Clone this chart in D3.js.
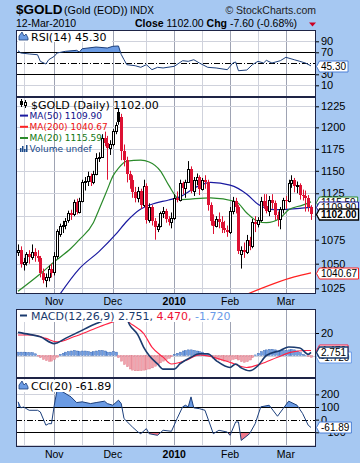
<!DOCTYPE html>
<html><head><meta charset="utf-8">
<script src="https://cdn.jsdelivr.net/npm/d3@7/dist/d3.min.js"></script>
<style>
html,body{margin:0;padding:0;background:#a6c8f2;}
svg{display:block;}
text{font-family:"Liberation Sans",Arial,sans-serif;}
.lg{font-family:"DejaVu Sans",Verdana,sans-serif;font-size:11px;}
.lgs{font-family:"DejaVu Sans",Verdana,sans-serif;font-size:9px;}
</style></head><body>
<svg id="chart" width="360" height="463"></svg>
<script>
// ---------------- DATA ----------------
const startDate = "2009-10-14", endDate = "2010-03-12";
const holidays = ["2009-12-25", "2010-01-01"];
const opens = [1062,1064,1050,1052,1060,1057,1062,1058,1056,1040,1033,1036,1045,
 1041,1058,1081,1089,1091,1096,1103,1102,1115,1105,1117,1137,1139,1144,1138,1146,1165,1166,1188,1182,1176,
 1181,1196,1218,1212,1173,1162,1146,1140,1126,1120,1127,1112,1133,1096,1110,1095,1086,1090,1103,1106,1097,1094,
 1098,1120,1118,1136,1131,1138,1152,1128,1140,1143,1130,1140,1137,1112,1095,1090,1097,1094,1087,1085,
 1083,1106,1117,1110,1060,1064,1062,1075,1068,1094,1092,1096,1117,1111,1106,1118,1114,1101,1097,1108,
 1118,1117,1136,1140,1133,1134,1123,1122,1120,1109.6];
const highs = [1070,1068,1056,1062,1064,1070,1066,1064,1058,1045,1040,1048,1050,
 1062,1086,1092,1095,1098,1106,1107,1118,1119,1120,1140,1143,1149,1147,1150,1170,1171,1192,1195,1190,1185,
 1198,1206,1222,1216,1180,1166,1150,1145,1132,1132,1130,1140,1136,1114,1112,1098,1092,1105,1110,1108,1100,1104,
 1124,1127,1140,1138,1140,1161,1155,1143,1147,1145,1142,1145,1140,1115,1102,1100,1104,1100,1095,1090,
 1110,1121,1120,1112,1068,1072,1080,1078,1097,1100,1099,1121,1124,1124,1122,1124,1117,1105,1110,1120,
 1122,1140,1145,1142,1138,1136,1129,1128,1123,1112];
const lows = [1058,1046,1043,1048,1050,1054,1052,1052,1036,1030,1026,1032,1036,
 1038,1055,1078,1082,1086,1093,1096,1100,1102,1103,1115,1128,1133,1133,1135,1145,1160,1165,1178,1140,1168,
 1178,1192,1203,1162,1155,1137,1130,1120,1115,1115,1108,1110,1092,1093,1090,1075,1083,1088,1098,1093,1090,1087,
 1096,1115,1116,1124,1120,1137,1125,1122,1134,1123,1128,1130,1106,1090,1081,1088,1087,1082,1082,1078,
 1081,1102,1103,1060,1045,1056,1060,1064,1066,1083,1088,1094,1108,1103,1100,1108,1096,1089,1086,1103,
 1108,1115,1131,1126,1125,1118,1117,1105,1105,1096];
const closes = [1064,1050,1052,1060,1057,1062,1058,1056,1040,1033,1036,1045,1040,
 1058,1084,1089,1091,1095,1103,1101,1115,1104,1117,1137,1139,1144,1138,1146,1165,1166,1188,1182,1176,1181,
 1196,1203,1206,1173,1162,1146,1140,1126,1120,1127,1112,1133,1096,1110,1095,1088,1090,1103,1106,1097,1094,1098,
 1120,1118,1136,1131,1138,1152,1128,1140,1143,1130,1140,1137,1112,1095,1090,1097,1094,1087,1085,1083,
 1106,1117,1110,1063,1064,1062,1075,1068,1094,1092,1096,1117,1111,1106,1118,1114,1101,1097,1108,1118,
 1117,1136,1140,1133,1134,1123,1122,1120,1109.6,1102];

// moving averages: [bar index, value]
const ma20 = [[0,1022],[9,1042],[13,1052],[19,1066],[22,1075],[27,1093],[29,1107],[32,1129],[34,1144],[36,1153],
 [39,1161],[44,1162],[47,1160],[51,1150],[54,1134],[57,1120],[58,1118],[69,1120],[78,1116],[82,1103.5],[85,1096],
 [89,1093],[94,1098],[97,1107],[102,1112],[105,1115.59]];
const ma50 = [[14,1015],[22,1045],[29,1062.5],[35,1080.5],[39,1094.6],[44,1107.8],[48,1113],[54,1117.6],[58,1121],
 [64,1132],[69,1137],[76,1134],[82,1124],[86,1113],[92,1107],[101,1108.5],[105,1109.9]];
const ma200 = [[82,1019],[99,1036.5],[105,1040.67]];

const rsi = [[0,73],[1,68.7],[4,67],[7,65.6],[8,53.6],[10,48.7],[11,56.5],[13,62.7],[14,68.7],[17,71.8],[21,73.6],
 [22,70.5],[23,76.5],[28,79.6],[32,77.8],[34,80.9],[36,81.5],[37,66],[38,56.5],[39,47.5],[42,45.6],[44,42.7],[46,47.5],
 [48,38.4],[50,42.7],[52,41.5],[56,44.5],[59,54.7],[61,53.6],[63,56.5],[65,50.5],[68,42.7],[71,41.5],[75,38.4],
 [77,50.5],[78,52.4],[79,36.5],[82,37.8],[84,47.5],[86,53.6],[88,50.5],[89,55.4],[91,50.5],[94,54.7],[96,60.9],
 [99,56.5],[101,53.6],[103,50.5],[105,45.3]];

const macdLine = [[0,20.6],[4,18.8],[8,16.6],[13,10.6],[14,11.2],[17,15.2],[22,21.2],[27,27.3],[29,29.4],[33,34],
 [36,40],[38,37.9],[40,27.3],[43,18.2],[45,7.5],[47,0],[50,-7.5],[52,-12.1],[56,-12.1],[58,-7.5],[62,-1.5],[65,1.5],
 [68,1.5],[71,-4.5],[76,-10.6],[78,-7.5],[80,-11],[83,-13.6],[86,-9.1],[89,0],[94,4.5],[97,7.5],[101,6.7],[104,1],[105,2.751]];
const macdSignal = [[0,18.2],[5,18.2],[10,15.2],[14,12.1],[20,16.6],[27,23.3],[33,29],[38,32],[41,27.3],[45,19.7],
 [48,7.5],[52,-1.5],[55,-7.5],[60,-4.5],[65,0.6],[70,-1.5],[76,-6.1],[82,-10.6],[87,-7.5],[93,-1.5],[98,3],[103,4.5],[105,4.47]];
const macdHist = [3,3,3,2.8,2.6,2.5,1.5,-0.5,-2,-3.5,-4.5,-5.2,-5,-3.5,-1.5,
 1,2,3,3.5,4,4.5,4,3.5,4,4,3.5,3,3.5,4,4.5,4.5,4,3,3,3.5,3,
 -2,-5,-8,-10,-12,-13,-13.6,-13.6,-13.5,-13,-12.5,-12,-11,-9.5,-8,-6.5,-5,-3.5,-2.5,-1,
 1,2,3,4,4.5,5,5,4.5,4,3.5,3,2,1,
 -1,-2.5,-3.5,-4,-4.5,-5,-5,-4.5,-3.5,-3,-4,-5.5,-6,-5.5,-4,-2,
 0.5,2,3.5,4.5,5,5.5,5.5,5,4,4,4.5,4.5,5,5.5,5,4,2.5,1,0.3,-1,-1.72];

const cci = [[0,141],[1,93],[2,100],[4,74],[7,74],[8,61],[10,-44],[11,-32],[12,-32],[13,114],[14,233],[16,220],
 [19,180],[21,135],[23,141],[26,127],[28,135],[31,146],[32,127],[34,114],[36,154],[37,127],[38,8],[41,-58],[43,-98],
 [44,-111],[46,-71],[47,-111],[50,-124],[52,-84],[55,-92],[57,8],[59,101],[60,114],[61,101],[62,180],[63,93],[65,87],
 [67,74],[70,-111],[72,-84],[75,-98],[76,-124],[78,-18],[79,-18],[80,-164],[83,-111],[85,-32],[87,101],[90,114],
 [93,27],[95,87],[97,146],[100,114],[102,48],[104,-44],[105,-61.89]];

const priceTicks = [1025,1050,1075,1125,1150,1175,1200,1225];
const priceGrid = [1025,1050,1075,1100,1125,1150,1175,1200,1225];
const rsiTicks = [10,30,70,90];
const macdTicks = [20];
const cciTicks = [-100,0,100,200];
const monthLabels = ["Nov","Dec","2010","Feb","Mar"];
const midMonthGrid = ["2009-10-16","2009-11-16","2009-12-17","2010-01-18","2010-02-15"];

// ---------------- BUILD ----------------
const fmt = d3.timeFormat("%Y-%m-%d");
const dates = [];
for (let d = new Date(startDate + "T12:00:00"); d <= new Date(endDate + "T12:00:00"); d.setDate(d.getDate() + 1)) {
  const s = fmt(d), wd = d.getDay();
  if (wd === 0 || wd === 6 || holidays.includes(s)) continue;
  dates.push(s);
}
const n = dates.length;
const monthStarts = [];
for (let i = 1; i < n; i++) if (dates[i].slice(5,7) !== dates[i-1].slice(5,7)) monthStarts.push(i);
const midIdx = midMonthGrid.map(s => dates.indexOf(s)).filter(i => i >= 0);

const svg = d3.select("#chart");
const L = 16, R = 316;
const x = d3.scaleLinear().domain([0, n - 1]).range([18, 311]);

const P = {
  rsi: {top: 30, bottom: 97},
  main: {top: 97, bottom: 294},
  macd: {top: 309, bottom: 378},
  cci: {top: 378, bottom: 447}
};
const yP = d3.scaleLog().domain([1019.3, 1235.6]).range([294, 97.5]);
const yR = d3.scaleLinear().domain([30, 70]).range([74.3, 52.3]);
const yM = d3.scaleLinear().domain([0, 20]).range([355.5, 333]);
const yC = d3.scaleLinear().domain([-100, 100]).range([432.3, 407]);

const GRID = "#cfd2dc", MGRID = "#9ea3b3", BORDER = "#1e2446";
const RED = "#dd1133", BLUE_FILL = "#6b9be3", PINK = "#f2a0aa";

const defs = svg.append("defs");
function panel(key, yScale, ticks, grid) {
  const p = P[key];
  defs.append("clipPath").attr("id", "clip-" + key).append("rect")
    .attr("x", L).attr("y", p.top).attr("width", R - L).attr("height", p.bottom - p.top);
  const g = svg.append("g");
  g.append("rect").attr("x", L).attr("y", p.top).attr("width", R - L).attr("height", p.bottom - p.top).attr("fill", "#fff");
  const gg = g.append("g").attr("clip-path", `url(#clip-${key})`);
  midIdx.forEach(i => gg.append("line").attr("x1", Math.round(x(i)) + 0.5).attr("x2", Math.round(x(i)) + 0.5)
    .attr("y1", p.top).attr("y2", p.bottom).attr("stroke", GRID));
  monthStarts.forEach(i => gg.append("line").attr("x1", Math.round(x(i)) + 0.5).attr("x2", Math.round(x(i)) + 0.5)
    .attr("y1", p.top).attr("y2", p.bottom).attr("stroke", MGRID));
  grid.forEach(t => gg.append("line").attr("x1", L).attr("x2", R)
    .attr("y1", Math.round(yScale(t)) + 0.5).attr("y2", Math.round(yScale(t)) + 0.5).attr("stroke", GRID));
  const ax = svg.append("g").attr("transform", `translate(${R},0)`)
    .call(d3.axisRight(yScale).tickValues(ticks).tickSize(3).tickPadding(2).tickFormat(d3.format("d")));
  ax.select(".domain").remove();
  ax.selectAll("line").attr("stroke", "#000");
  ax.selectAll("text").attr("font-size", 11).attr("fill", "#000").attr("font-family", "Liberation Sans, Arial, sans-serif");
  return {g, gg, ax, p};
}
function border(p) {
  svg.append("rect").attr("x", L + 0.5).attr("y", p.top + 0.5).attr("width", R - L - 1).attr("height", p.bottom - p.top - 1)
    .attr("fill", "none").attr("stroke", BORDER);
}
function valueBox(y, txt, stroke, opts = {}) {
  const g = svg.append("g");
  const h = 11;
  const yc = Math.round(y) + 0.5;
  const path = g.append("path");
  const t = g.append("text").attr("x", R + 5).attr("y", yc + 3.5).attr("font-size", 10).attr("font-weight", opts.bold ? "bold" : null)
    .attr("fill", "#000").text(txt);
  const w = t.node().getComputedTextLength();
  const xe = Math.min(R + 5 + w + 2, 358.5);
  path.attr("d", `M${R+0.5},${yc} L${R+3.5},${yc-h/2} L${xe},${yc-h/2} L${xe},${yc+h/2} L${R+3.5},${yc+h/2} Z`)
    .attr("fill", "#fff").attr("stroke", stroke).attr("stroke-width", opts.sw || 1);
}
function legendBg(x0, y0, w, h) {
  svg.append("rect").attr("x", x0).attr("y", y0).attr("width", w).attr("height", h).attr("fill", "#fff");
}
function mountainIcon(x0, y0, col) {
  svg.append("path").attr("d", `M${x0},${y0+8} L${x0},${y0+4} L${x0+3},${y0} L${x0+5},${y0+4} L${x0+7},${y0+2} L${x0+9},${y0+6} L${x0+9},${y0+8} Z`)
    .attr("fill", col).attr("stroke", "#1c3f7c").attr("stroke-width", 0.8);
}

// ---------------- HEADER ----------------
svg.append("text").attr("x", 16).attr("y", 14).attr("font-size", 13.5).attr("font-weight", "bold").text("$GOLD");
svg.append("text").attr("x", 64).attr("y", 14).attr("font-size", 10.8).text("(Gold (EOD))");
svg.append("text").attr("x", 130).attr("y", 14).attr("font-size", 10).text("INDX");
svg.append("text").attr("x", 316).attr("y", 14).attr("font-size", 10.5).attr("text-anchor", "end").attr("fill", "#222").text("© StockCharts.com");
svg.append("text").attr("x", 16).attr("y", 27).attr("font-size", 10.5).text("12-Mar-2010");
const hdr = svg.append("text").attr("x", 135).attr("y", 27).attr("font-size", 10.5);
hdr.append("tspan").attr("font-weight", "bold").text("Close");
hdr.append("tspan").text(" 1102.00  ");
hdr.append("tspan").attr("font-weight", "bold").text("Chg");
hdr.append("tspan").text(" -7.60 (-0.68%)");
svg.append("path").attr("d", "M309,22.5 L316,22.5 L312.5,26.5 Z").attr("fill", "#cc0022");

// ---------------- RSI ----------------
{
  const pr = panel("rsi", yR, rsiTicks, [10, 90]);
  const gg = pr.gg;
  defs.append("clipPath").attr("id", "clip-rsi-hi").append("rect").attr("x", L).attr("y", P.rsi.top).attr("width", R - L).attr("height", yR(70) - P.rsi.top);
  gg.append("path").datum(rsi).attr("clip-path", "url(#clip-rsi-hi)")
    .attr("d", d3.area().x(d => x(d[0])).y0(yR(70)).y1(d => yR(d[1]))).attr("fill", BLUE_FILL);
  [70, 30].forEach(v => gg.append("line").attr("x1", L).attr("x2", R).attr("y1", Math.round(yR(v)) + 0.5).attr("y2", Math.round(yR(v)) + 0.5).attr("stroke", "#000"));
  gg.append("line").attr("x1", L).attr("x2", R).attr("y1", Math.round(yR(50)) + 0.5).attr("y2", Math.round(yR(50)) + 0.5)
    .attr("stroke", "#000").attr("stroke-dasharray", "6,2,1,2");
  gg.append("path").datum(rsi).attr("d", d3.line().x(d => x(d[0])).y(d => yR(d[1]))).attr("fill", "none").attr("stroke", "#1c3f7c").attr("stroke-width", 1);
  border(P.rsi);
  legendBg(18, 31, 94, 11);
  mountainIcon(19, 32, BLUE_FILL);
  svg.append("text").attr("class", "lg").attr("x", 31).attr("y", 40.5).text("RSI(14) 45.30");
  valueBox(yR(45.3), "45.30", "#4a7fd6");
}

// ---------------- MAIN ----------------
{
  const pr = panel("main", yP, priceTicks, priceGrid);
  const gg = pr.gg;
  const idx = d3.range(n);
  const col = i => (closes[i] < (i ? closes[i - 1] : opens[i])) ? RED : "#000";
  const mline = d3.line().x(d => x(d[0])).y(d => yP(d[1])).curve(d3.curveMonotoneX);
  gg.append("path").datum(ma200).attr("d", mline).attr("fill", "none").attr("stroke", "#ff2222").attr("stroke-width", 1.2);
  gg.append("path").datum(ma50).attr("d", mline).attr("fill", "none").attr("stroke", "#1a1aa0").attr("stroke-width", 1.2);
  gg.append("path").datum(ma20).attr("d", mline).attr("fill", "none").attr("stroke", "#2a8a2a").attr("stroke-width", 1.2);
  gg.selectAll("line.wick").data(idx).join("line").attr("class", "wick")
    .attr("x1", i => Math.round(x(i)) + 0.5).attr("x2", i => Math.round(x(i)) + 0.5)
    .attr("y1", i => yP(highs[i])).attr("y2", i => yP(lows[i])).attr("stroke", col);
  gg.selectAll("rect.body").data(idx).join("rect").attr("class", "body")
    .each(function (i) {
      const top = yP(Math.max(opens[i], closes[i])), bot = yP(Math.min(opens[i], closes[i]));
      const hollow = closes[i] >= opens[i];
      const cx = Math.round(x(i));
      const s = d3.select(this);
      if (hollow) {
        s.attr("x", cx - 0.5).attr("width", 2).attr("y", Math.round(top) + 0.5).attr("height", Math.max(Math.round(bot) - Math.round(top), 1))
          .attr("fill", "#fff").attr("stroke", col(i));
      } else {
        s.attr("x", cx - 1).attr("width", 3).attr("y", Math.round(top)).attr("height", Math.max(Math.round(bot) - Math.round(top), 1))
          .attr("fill", col(i));
      }
    });
  border(P.main);
  // legend
  svg.append("line").attr("x1", 21.5).attr("x2", 21.5).attr("y1", 99).attr("y2", 107).attr("stroke", "#000");
  svg.append("rect").attr("x", 20).attr("y", 101).attr("width", 3).attr("height", 4).attr("fill", "#000");
  svg.append("line").attr("x1", 25.5).attr("x2", 25.5).attr("y1", 100).attr("y2", 108).attr("stroke", "#000");
  svg.append("rect").attr("x", 24.5).attr("y", 102.5).attr("width", 2).attr("height", 3).attr("fill", "#fff").attr("stroke", "#000");
  svg.append("text").attr("class", "lg").attr("x", 31).attr("y", 108.5).text("$GOLD (Daily) 1102.00");
  const items = [["MA(50) 1109.90", "#10108a", "#1a1aa0"], ["MA(200) 1040.67", "#ee1111", "#ff2222"], ["MA(20) 1115.59", "#117711", "#2a8a2a"]];
  items.forEach((it, k) => {
    const yy = 118.8 + k * 11.2;
    svg.append("line").attr("x1", 20).attr("x2", 28).attr("y1", yy - 3.2).attr("y2", yy - 3.2).attr("stroke", it[2]).attr("stroke-width", 2);
    svg.append("text").attr("class", "lgs").attr("x", 29.5).attr("y", yy).attr("fill", it[1]).text(it[0]);
  });
  [[20, 4], [22, 6], [24, 3], [26, 7]].forEach(b => svg.append("rect").attr("x", b[0]).attr("y", 152 - b[1]).attr("width", 1.5).attr("height", b[1]).attr("fill", "#1c4a8a"));
  svg.append("text").attr("class", "lgs").attr("x", 29.5).attr("y", 152.4).attr("fill", "#1c4a8a").text("Volume undef");
  valueBox(yP(1040.67), "1040.67", "#ff2222");
  valueBox(yP(1115.59), "1115.59", "#2a8a2a");
  valueBox(yP(1109.9), "1109.90", "#1a1aa0");
  valueBox(yP(1102), "1102.00", "#000", {bold: true, sw: 1.3});
}

// ---------------- X labels ----------------
function monthAxis(yBase) {
  monthStarts.forEach((i, k) => {
    svg.append("text").attr("x", x(i)).attr("y", yBase).attr("text-anchor", "middle")
      .attr("font-size", 10.5).attr("font-weight", monthLabels[k] === "2010" ? "bold" : null).text(monthLabels[k]);
  });
}
monthAxis(305);

// ---------------- MACD ----------------
{
  const pr = panel("macd", yM, macdTicks, [20, 0]);
  const gg = pr.gg;
  gg.selectAll("rect.h").data(macdHist).join("rect").attr("class", "h")
    .attr("x", (d, i) => Math.round(x(i)) - 0.5).attr("width", 2)
    .attr("y", d => Math.min(yM(d), yM(0))).attr("height", d => Math.abs(yM(d) - yM(0)))
    .attr("fill", d => d >= 0 ? BLUE_FILL : PINK).attr("stroke", d => d >= 0 ? "#2c5aa8" : "#d77080").attr("stroke-width", 0.4);
  gg.append("path").datum(macdSignal).attr("d", d3.line().x(d => x(d[0])).y(d => yM(d[1])).curve(d3.curveMonotoneX))
    .attr("fill", "none").attr("stroke", "#ff2244").attr("stroke-width", 1.1);
  gg.append("path").datum(macdLine).attr("d", d3.line().x(d => x(d[0])).y(d => yM(d[1])).curve(d3.curveMonotoneX))
    .attr("fill", "none").attr("stroke", "#1a3a6e").attr("stroke-width", 1.6);
  border(P.macd);
  legendBg(18, 310, 218, 12);
  svg.append("line").attr("x1", 20).attr("x2", 27).attr("y1", 315.5).attr("y2", 315.5).attr("stroke", "#1a3a6e").attr("stroke-width", 2);
  const t = svg.append("text").attr("class", "lg").attr("x", 31).attr("y", 319.5);
  t.append("tspan").attr("fill", "#1a3a6e").text("MACD(12,26,9) 2.751, ");
  t.append("tspan").attr("fill", "#ee1133").text("4.470, ");
  t.append("tspan").attr("fill", "#6a9ae8").text("-1.720");
  valueBox(yM(4.47), "4.470", "#ff2244");
  valueBox(yM(-1.72), "-1.720", "#6a9ae8");
  valueBox(yM(2.751), "2.751", "#1a3a6e", {sw: 1.3});
}

// ---------------- CCI ----------------
{
  const pr = panel("cci", yC, cciTicks, [200, -200]);
  const gg = pr.gg;
  defs.append("clipPath").attr("id", "clip-cci-hi").append("rect").attr("x", L).attr("y", P.cci.top).attr("width", R - L).attr("height", yC(100) - P.cci.top);
  defs.append("clipPath").attr("id", "clip-cci-lo").append("rect").attr("x", L).attr("y", yC(-100)).attr("width", R - L).attr("height", P.cci.bottom - yC(-100));
  gg.append("path").datum(cci).attr("clip-path", "url(#clip-cci-hi)")
    .attr("d", d3.area().x(d => x(d[0])).y0(yC(100)).y1(d => yC(d[1]))).attr("fill", BLUE_FILL);
  gg.append("path").datum(cci).attr("clip-path", "url(#clip-cci-lo)")
    .attr("d", d3.area().x(d => x(d[0])).y0(yC(-100)).y1(d => yC(d[1]))).attr("fill", "#f07a8a");
  [100, -100].forEach(v => gg.append("line").attr("x1", L).attr("x2", R).attr("y1", Math.round(yC(v)) + 0.5).attr("y2", Math.round(yC(v)) + 0.5).attr("stroke", "#000"));
  gg.append("line").attr("x1", L).attr("x2", R).attr("y1", Math.round(yC(0)) + 0.5).attr("y2", Math.round(yC(0)) + 0.5)
    .attr("stroke", "#000").attr("stroke-dasharray", "6,2,1,2");
  gg.append("path").datum(cci).attr("d", d3.line().x(d => x(d[0])).y(d => yC(d[1])))
    .attr("fill", "none").attr("stroke", "#1c3f7c").attr("stroke-width", 1);
  border(P.cci);
  legendBg(18, 380, 88, 12);
  mountainIcon(19, 381, BLUE_FILL);
  svg.append("text").attr("class", "lg").attr("x", 31).attr("y", 389.5).text("CCI(20) -61.89");
  valueBox(yC(-61.89), "-61.89", "#4a7fd6");
}
monthAxis(458);
</script>
</body></html>
